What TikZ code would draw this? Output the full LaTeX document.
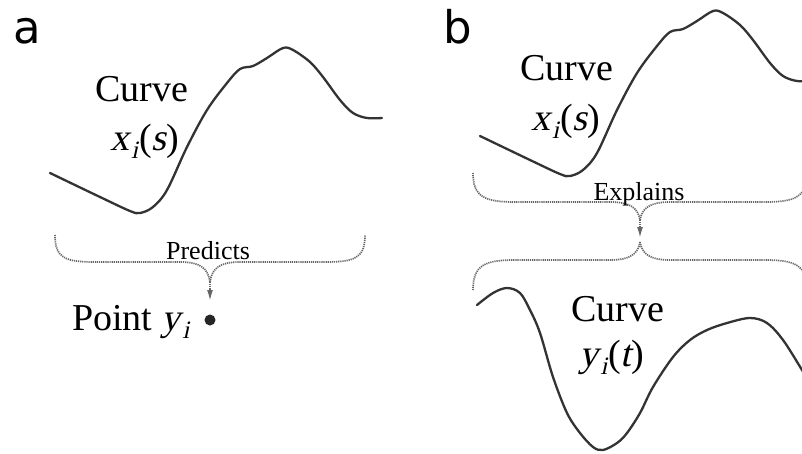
\documentclass[tikz,border=0pt]{standalone}
\usepackage{fontspec}
\setmainfont{Liberation Serif}
\newfontfamily\slantfont{Liberation Serif}[FakeSlant=0.22]
\newfontfamily\panelfont{DejaVu Sans}
\usepackage{tikz}
\usetikzlibrary{arrows.meta,positioning}

\newcommand{\var}[1]{{\slantfont #1}}
\newcommand{\lowidx}[1]{\kern1.5pt\raisebox{-0.22em}{\fontsize{25}{25}\selectfont\slantfont #1}\kern1pt}
\newcommand{\xshape}{(50,173) (100,197) (130,211) (140,213) (153,207) (167,190) (187,147) (207,110) (227,83) (240,69) (253,66) (267,58) (283,48) (293,50) (310,62) (323,77) (340,100) (353,113) (367,118) (382,118)}

\begin{document}
\begin{tikzpicture}[x=1pt,y=-1pt,
	curve/.style={line width=2.3pt, draw=black!80, line join=round, line cap=round},
	bracepath/.style={line width=1.7pt, draw=black!60, dash pattern=on 1.2pt off 0.9pt},
	pointer/.style={bracepath, -{Latex[length=11pt,width=6pt,fill=black!70]}},
	bigtext/.style={font=\fontsize{38}{40}\selectfont, inner sep=0pt, anchor=base},
	smalltext/.style={font=\fontsize{26}{28}\selectfont, inner sep=0pt, anchor=base},
	panel/.style={font=\panelfont\fontsize{45}{45}\selectfont, inner sep=0pt, anchor=base west}]
	\clip (0,0) rectangle (802,453);

	% panel a
	\node[panel] (labelA) at (13,43) {a};
	\draw[curve] plot[smooth, tension=0.55] coordinates {\xshape};
	\node[bigtext] (curveA) at (142,101) {Curve};
	\node[bigtext] (xsA) at (145,150) {\var{x}\lowidx{i}(\var{s})};

	\coordinate (tipA) at (210,282);
	\coordinate (arrA) at (210,301);
	\draw[bracepath] (55,235) .. controls (55,258) and (65,262) .. (95,262) -- (180,262) .. controls (200,262) and (208,268) .. (tipA);
	\draw[bracepath] (tipA) .. controls (212,268) and (220,262) .. (240,262) -- (325,262) .. controls (355,262) and (365,258) .. (365,235);
	\node[smalltext] (predicts) at (208,259) {Predicts};
	\draw[pointer] (tipA) -- (arrA);

	\node[bigtext, anchor=base west] (pointA) at (72,330) {Point \var{y}\lowidx{i}};
	\node[circle, fill=black!85, inner sep=0pt, minimum size=11pt] (dotA) at (210,320) {};

	% panel b
	\node[panel] (labelB) at (443,43) {b};
	\draw[curve, shift={(430,-37)}] plot[smooth, tension=0.55] coordinates {\xshape (397,118) (420,118)};
	\node[bigtext] (curveB) at (567,80) {Curve};
	\node[bigtext] (xsB) at (566,130) {\var{x}\lowidx{i}(\var{s})};

	\coordinate (tipB) at (640,220);
	\coordinate (arrB) at (640,238);
	\coordinate (tipC) at (640,242);
	\draw[bracepath] (473,173) .. controls (473,197) and (485,202) .. (515,202) -- (610,202) .. controls (630,202) and (638,208) .. (tipB);
	\draw[bracepath] (tipB) .. controls (642,208) and (650,202) .. (670,202) -- (765,202) .. controls (795,202) and (807,197) .. (807,173);
	\node[smalltext] (explains) at (639,200) {Explains};
	\draw[pointer] (tipB) -- (arrB);
	\draw[bracepath] (473,290) .. controls (473,265) and (485,260) .. (515,260) -- (610,260) .. controls (630,260) and (638,254) .. (tipC);
	\draw[bracepath] (tipC) .. controls (642,254) and (650,260) .. (670,260) -- (765,260) .. controls (795,260) and (807,265) .. (807,290);

	\draw[curve] plot[smooth, tension=0.55] coordinates {(477,305) (493,293) (507,288) (520,293) (530,310) (540,333) (553,377) (567,413) (580,433) (593,447) (603,450) (617,443) (627,433) (640,413) (653,387) (673,357) (690,340) (707,330) (727,323) (750,318) (767,323) (783,340) (802,370) (815,392)};
	\node[bigtext] (curveC) at (618,321) {Curve};
	\node[bigtext] (ytC) at (612,366) {\var{y}\lowidx{i}(\var{t})};
\end{tikzpicture}
\end{document}
